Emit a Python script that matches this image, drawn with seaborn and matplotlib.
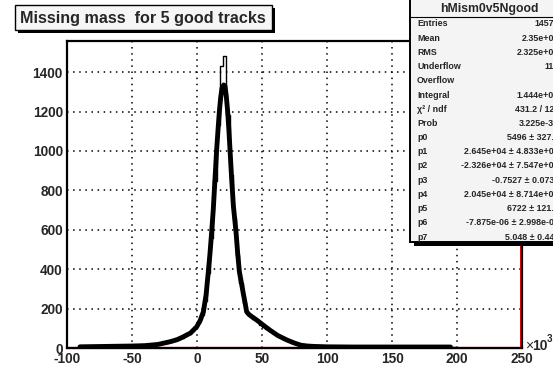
import numpy as np
import pandas as pd
import matplotlib
matplotlib.use("Agg")
import matplotlib.pyplot as plt
from matplotlib.patches import Rectangle
from matplotlib.ticker import MultipleLocator
import seaborn as sns

# ---------------- data (x in units of 10^3) ----------------
bin_start = -100.0
bin_width = 2.5
hist_counts = [
    0, 0, 0, 0,
    6, 7, 5, 8, 7, 6, 8, 9, 7, 8, 9, 8, 10, 9, 11, 10,
    11, 12, 12, 14, 15, 16, 18, 20,
    22, 24, 27, 31, 35, 40, 47, 53,
    62, 72, 85, 100,
    125, 165, 240, 380,
    560, 850, 1130, 1431, 1482, 1180, 880, 660,
    470, 330, 230, 180,
    160, 148, 135, 118,
    105, 95, 85, 74,
    64, 55, 47, 40,
    33, 26, 20, 15,
    12, 10, 9, 8,
    7, 7, 6, 6,
    6, 5, 6, 5, 5, 6, 5, 4, 5, 5, 6, 5, 4, 5, 5, 4, 5, 5, 4, 5,
    5, 4, 5, 4, 4, 5, 4, 4, 5, 4, 4, 3, 4, 4, 5, 4, 3, 4, 4, 3,
    0, 0, 0, 0, 0, 0, 0, 0, 0, 0, 0, 0, 0, 0, 0, 0, 0, 0, 0, 0,
]
fit_x = [-90, -80, -70, -60, -50, -40, -30, -26, -20, -15, -10.5, -5, -0.2, 2.5,
         4.9, 7, 8.7, 10, 11.3, 12.5, 13.8, 15.1, 16.2, 17.2, 18.2, 19.2, 20.5,
         21.5, 22.5, 23.6, 24.5, 25.4, 26.7, 28, 30, 31.3, 32.6, 34, 35.5, 37,
         38.2, 40, 42, 45.9, 50, 56, 62, 69, 75, 80, 85, 90, 100, 120, 150, 175, 195]
fit_y = [6, 7, 8, 9, 10, 12, 18, 24, 33, 43, 57, 76, 108, 140,
         184, 270, 387, 480, 590, 700, 853, 1005, 1110, 1200, 1270, 1318, 1335,
         1330, 1280, 1200, 1110, 1005, 853, 720, 590, 480, 387, 336, 281, 228,
         184, 170, 160, 142, 121, 91, 64, 41, 25, 14, 10, 8, 6, 5, 5, 5, 5]

title = "Missing mass  for 5 good tracks"
stats_name = "hMism0v5Ngood"
stats_labels = ["Entries", "Mean", "RMS", "Underflow", "Overflow", "Integral",
                "χ² / ndf", "Prob", "p0", "p1", "p2", "p3", "p4", "p5", "p6", "p7"]
stats_values = ["14573", "2.35e+04", "2.325e+04", "115", "0", "1.444e+04",
                "431.2 / 127", "3.225e-31", "5496 ± 327.4",
                "2.645e+04 ± 4.833e+03", "-2.326e+04 ± 7.547e+03",
                "-0.7527 ± 0.0731", "2.045e+04 ± 8.714e+03", "6722 ± 121.6",
                "-7.875e-06 ± 2.998e-07", "5.048 ± 0.443"]
xticks = [-100, -50, 0, 50, 100, 150, 200, 250]
yticks = [0, 200, 400, 600, 800, 1000, 1200, 1400]

# ---------------- style ----------------
sns.set_style("white")
plt.rcParams['font.family'] = ['Liberation Sans', 'DejaVu Sans']
plt.rcParams['axes.unicode_minus'] = False

W, H = 553, 369
fig = plt.figure(figsize=(W / 100, H / 100), dpi=100)
fig.patch.set_facecolor('white')
L, R, T, B = 67, 522, 41, 348
ax = fig.add_axes([L / W, 1 - B / H, (R - L) / W, (B - T) / H])

edges = [bin_start + bin_width * i for i in range(len(hist_counts) + 1)]
centers = [0.5 * (edges[i] + edges[i + 1]) for i in range(len(hist_counts))]
hist_df = pd.DataFrame({"x": centers, "w": hist_counts})
fit_df = pd.DataFrame({"x": fit_x, "y": fit_y})

ax.grid(True, color='black', linestyle=(0, (1, 3)), linewidth=1.1)
ax.set_axisbelow(True)

sns.histplot(data=hist_df, x="x", weights="w", bins=edges, element='step',
             fill=False, color='black', linewidth=1.0, ax=ax, zorder=2)
ax.plot([-100, 250], [0, 0], color='red', lw=1.6, zorder=2.5, clip_on=False)
ax.plot([249.4, 249.4], [0, 1558], color='red', lw=1.4, zorder=2.5, clip_on=False)
sns.lineplot(data=fit_df, x="x", y="y", color='black', linewidth=3.5, ax=ax,
             zorder=3, sort=False)

ax.set_xlim(-100, 250)
ax.set_ylim(0, 1558)
ax.set_xticks(xticks)
ax.set_yticks(yticks)
ax.set_xticklabels([str(v) for v in xticks])
ax.set_yticklabels([str(v) for v in yticks])
ax.xaxis.set_minor_locator(MultipleLocator(10))
ax.yaxis.set_minor_locator(MultipleLocator(50))
ax.tick_params(axis='both', which='major', direction='in', length=9, width=1.2,
               labelsize=9.8, pad=3, color='black')
ax.tick_params(axis='both', which='minor', direction='in', length=4.5, width=1.2,
               color='black')
ax.tick_params(top=False, right=False, which='both')
for lab in ax.get_xticklabels() + ax.get_yticklabels():
    lab.set_fontweight('bold')
ax.set_xlabel('')
ax.set_ylabel('')
for s in ax.spines.values():
    s.set_color('black')
    s.set_linewidth(1.6)
    s.set_visible(True)

# x10^3 label
fig.text(525 / W, 1 - 346 / H, "×", fontsize=10, ha='left', va='center')
fig.text(532 / W, 1 - 346 / H, "10", fontsize=10, fontweight='bold', ha='left', va='center')
fig.text(547 / W, 1 - 339 / H, "3", fontsize=7, fontweight='bold', ha='left', va='center')

# ---------------- title box ----------------
def px_rect(x0, y0, x1, y1, **kw):
    return Rectangle((x0 / W, 1 - y1 / H), (x1 - x0) / W, (y1 - y0) / H,
                     transform=fig.transFigure, **kw)

fig.patches.append(px_rect(18, 8, 275, 33, facecolor='black', edgecolor='none', zorder=5))
fig.patches.append(px_rect(15, 5, 272, 30, facecolor='#f6f6f6', edgecolor='black',
                           linewidth=1.0, zorder=6))
fig.text(20 / W, 1 - 18 / H, title, fontsize=11.6, fontweight='bold',
         ha='left', va='center', zorder=7)

# ---------------- stats box ----------------
fig.patches.append(px_rect(414, -5, 570, 246, facecolor='black', edgecolor='none', zorder=5))
fig.patches.append(px_rect(410, -5, 566, 242, facecolor='#f4f4f4', edgecolor='black',
                           linewidth=1.4, zorder=6))
fig.lines.append(plt.Line2D([410 / W, 566 / W], [1 - 17 / H, 1 - 17 / H],
                            transform=fig.transFigure, color='black', lw=0.8, zorder=7))
fig.text(489 / W, 1 - 9 / H, stats_name, fontsize=8.8, fontweight='bold',
         ha='center', va='center', zorder=7)
for i, (lab, val) in enumerate(zip(stats_labels, stats_values)):
    y = 24 + 14.2 * i
    fig.text(417 / W, 1 - y / H, lab, fontsize=6.4, fontweight='bold',
             ha='left', va='center', zorder=7)
    fig.text(559 / W, 1 - y / H, val, fontsize=6.4, fontweight='bold',
             ha='right', va='center', zorder=7)

fig.savefig("out.png", dpi=100)
